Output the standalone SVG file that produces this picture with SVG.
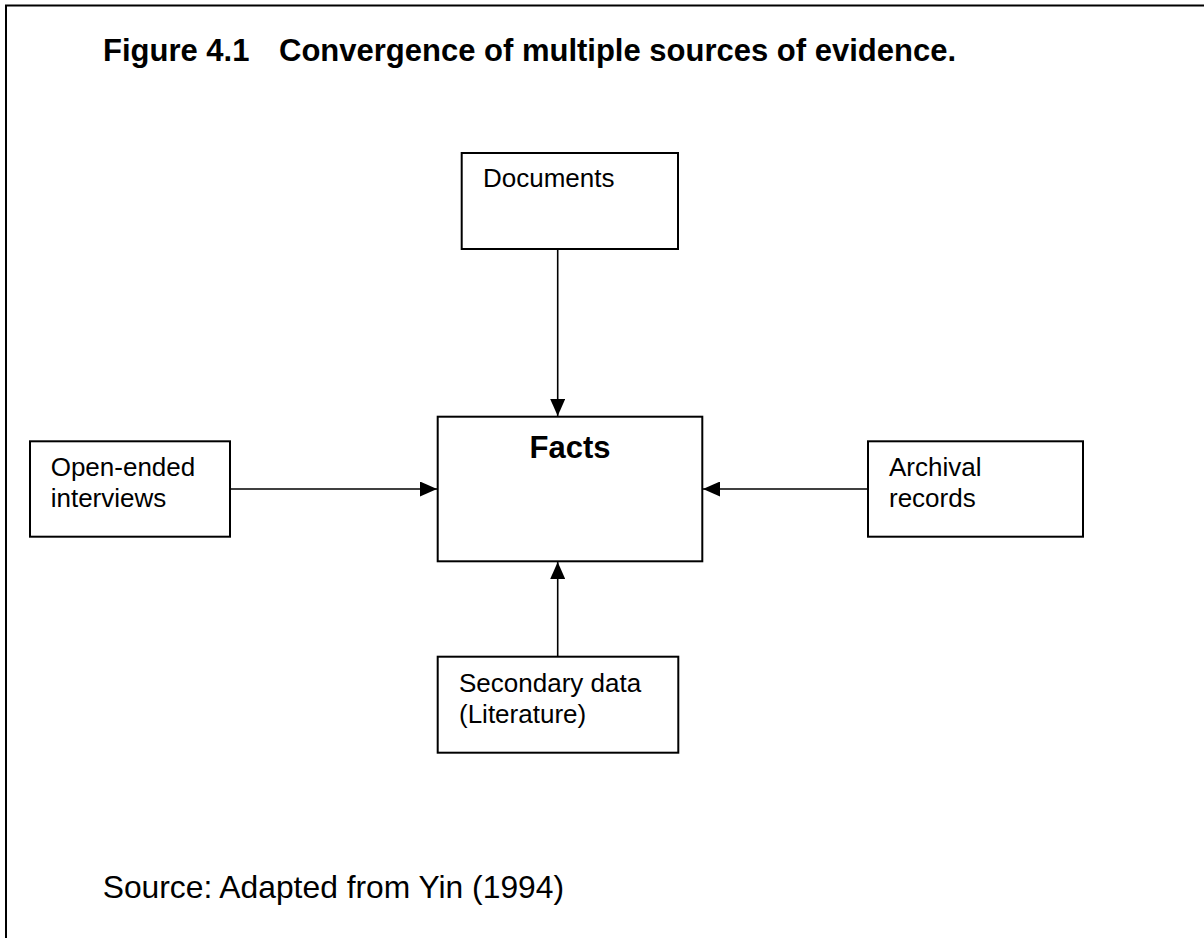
<svg xmlns="http://www.w3.org/2000/svg" width="1204" height="938" viewBox="0 0 1204 938">
<style>
.box{fill:#fff;stroke:#000;stroke-width:2}
.lbl{font-family:"Liberation Sans",Arial,sans-serif;font-size:26px;fill:#000}
.bold{font-family:"Liberation Sans",Arial,sans-serif;font-weight:bold;fill:#000}
.conn{stroke:#000;stroke-width:1.6;fill:none;marker-end:url(#arr)}
</style>
<defs>
<marker id="arr" markerUnits="userSpaceOnUse" markerWidth="17" markerHeight="15" refX="17" refY="7.5" orient="auto">
<path d="M0,0 L17,7.5 L0,15 Z" fill="#000"/>
</marker>
</defs>
<rect width="1204" height="938" fill="#fff"/>
<path d="M6,938 L6,5.5 L1204,5.5" fill="none" stroke="#000" stroke-width="2"/>
<text class="bold" x="103" y="61" font-size="31">Figure 4.1<tspan x="279">Convergence of multiple sources of evidence.</tspan></text>
<g id="connectors">
<line class="conn" x1="557.7" y1="249" x2="557.7" y2="416"/>
<line class="conn" x1="230" y1="489" x2="437" y2="489"/>
<line class="conn" x1="868" y1="489" x2="703" y2="489"/>
<line class="conn" x1="557.7" y1="656.7" x2="557.7" y2="562"/>
</g>
<g id="documents">
<rect class="box" x="461.7" y="153" width="216.3" height="96"/>
<text class="lbl" x="483" y="187">Documents</text>
</g>
<g id="facts">
<rect class="box" x="437.7" y="416.7" width="264.6" height="144.6"/>
<text class="bold" x="570" y="458.3" font-size="31" text-anchor="middle">Facts</text>
</g>
<g id="interviews">
<rect class="box" x="30" y="441.3" width="200" height="95.4"/>
<text class="lbl" x="50.7" y="476">Open-ended</text>
<text class="lbl" x="50.7" y="506.7">interviews</text>
</g>
<g id="archival">
<rect class="box" x="868" y="441.3" width="215" height="95.4"/>
<text class="lbl" x="889" y="476">Archival</text>
<text class="lbl" x="889" y="506.7">records</text>
</g>
<g id="secondary">
<rect class="box" x="437.7" y="656.7" width="240.6" height="96"/>
<text class="lbl" x="459" y="691.7">Secondary data</text>
<text class="lbl" x="459" y="722.5">(Literature)</text>
</g>
<text class="lbl" x="102.7" y="898.3" style="font-size:31.8px">Source: Adapted from Yin (1994)</text>
</svg>
